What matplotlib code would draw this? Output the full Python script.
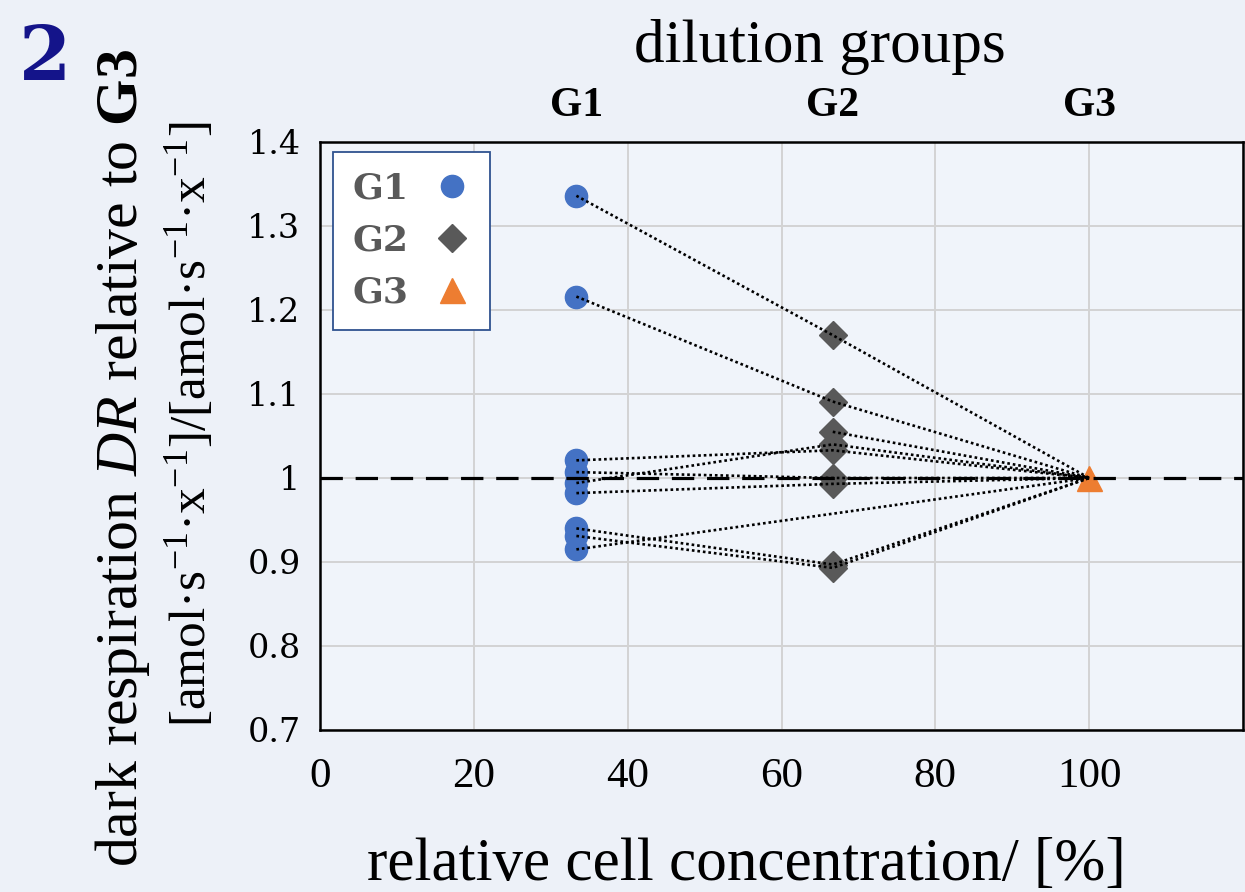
import matplotlib
matplotlib.use("Agg")
import matplotlib.pyplot as plt
import numpy as np

# --------- data ---------
group_names = ["G1", "G2", "G3"]
group_x = [100 / 3, 200 / 3, 100]

# one entry per sample, nan = no point in that group
g1 = [1.336, 1.216, 1.021, 1.007, 0.994, 0.982, 0.940, 0.931, 0.915, np.nan]
g2 = [1.170, 1.091, 1.033, 1.000, 1.040, 0.993, 0.897, 0.893, np.nan, 1.055]
g3 = [1.0] * len(g1)

xticks = [0, 20, 40, 60, 80, 100]
yticks = [0.7, 0.8, 0.9, 1.0, 1.1, 1.2, 1.3, 1.4]
ylabels = ["0.7", "0.8", "0.9", "1", "1.1", "1.2", "1.3", "1.4"]

# --------- style ---------
bg = "#edf1f8"
plt.rcParams["mathtext.fontset"] = "custom"
plt.rcParams["mathtext.rm"] = "Liberation Serif"
plt.rcParams["mathtext.it"] = "Liberation Serif:italic"
plt.rcParams["mathtext.bf"] = "Liberation Serif:bold"

fig = plt.figure(figsize=(12.45, 8.92), dpi=100, facecolor=bg)
ax = fig.add_axes([320 / 1245, 162 / 892, 923 / 1245, 588 / 892], facecolor="#f0f4fa")

ax.set_xlim(0, 120)
ax.set_ylim(0.7, 1.4)

# grid
ax.set_xticks(xticks + [120])
ax.set_xticklabels([str(t) for t in xticks] + [""])
ax.set_yticks(yticks)
ax.set_yticklabels(ylabels)
ax.grid(True, color="#d3d3d3", linewidth=1.4)
ax.set_axisbelow(True)
ax.tick_params(axis="both", length=0)
ax.tick_params(axis="x", pad=20)
ax.tick_params(axis="y", pad=14)
for lab in ax.get_xticklabels():
    lab.set_fontfamily("Liberation Serif")
    lab.set_fontsize(31)
for lab in ax.get_yticklabels():
    lab.set_fontfamily("DejaVu Serif")
    lab.set_fontsize(24)
for s in ax.spines.values():
    s.set_linewidth(1.8)
    s.set_color("black")

# --------- markers ---------
ax.plot([group_x[0]] * len(g1), g1, "o", color="#4472c4", ms=16, zorder=2, label="G1")
ax.plot([group_x[1]] * len(g2), g2, "D", color="#595959", ms=14, zorder=2, label="G2")
ax.plot([group_x[2]], [g3[0]], "^", color="#ed7d31", ms=18, zorder=2, label="G3")

# --------- dotted connecting lines ---------
for a, b, c in zip(g1, g2, g3):
    xs = []
    ys = []
    for gx, v in zip(group_x, [a, b, c]):
        if not np.isnan(v):
            xs.append(gx)
            ys.append(v)
    ax.plot(xs, ys, color="black", linewidth=1.9, linestyle=(0, (1, 1.1)), zorder=3)

ax.axhline(1.0, color="black", linewidth=2.3, dashes=(7, 4), zorder=4)

# --------- legend ---------
leg = ax.legend(loc="upper left", bbox_to_anchor=(0.014, 0.983), borderaxespad=0,
                markerfirst=False, handlelength=1.0, handletextpad=0.7,
                labelspacing=0.5, borderpad=0.55, fancybox=False, framealpha=1,
                prop={"family": "DejaVu Serif", "weight": "bold", "size": 26})
leg.get_frame().set_edgecolor("#2f528f")
leg.get_frame().set_linewidth(1.3)
for t in leg.get_texts():
    t.set_color("#595959")

# --------- labels ---------
ax.set_xlabel("relative cell concentration/ [%]", family="Liberation Serif", fontsize=44,
              labelpad=30, x=0.462, ha="center")

top = ax.secondary_xaxis("top")
top.set_xticks(group_x)
top.set_xticklabels(group_names, family="Liberation Serif", fontweight="bold", fontsize=30)
top.tick_params(length=0, pad=12)
top.spines["top"].set_visible(False)
top.set_xlabel("dilution groups", family="Liberation Serif", fontsize=44, labelpad=18,
               x=0.542, ha="center")

fig.text(123 / 1245, 0.487, r"dark respiration $\mathit{DR}$ relative to $\mathbf{G3}$",
         rotation=90, ha="center", va="center", family="Liberation Serif", fontsize=43)
fig.text(190 / 1245, 0.524, r"[amol·s$^{-1}$·x$^{-1}$]/[amol·s$^{-1}$·x$^{-1}$]",
         rotation=90, ha="center", va="center", family="Liberation Serif", fontsize=37)

fig.text(45 / 1245, 1 - 60 / 892, "2", ha="center", va="center", family="DejaVu Serif",
         fontweight="bold", fontsize=54, color="#14148a")

plt.savefig("out.png", dpi=100, facecolor=bg)
